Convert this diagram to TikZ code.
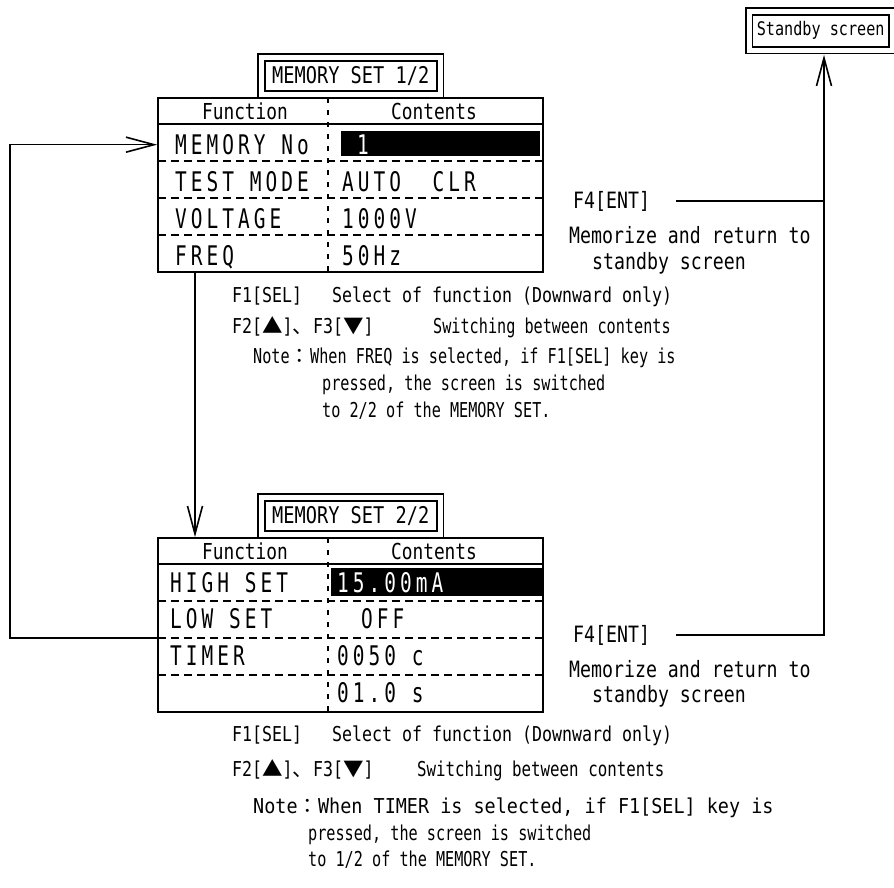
\documentclass[tikz,border=0pt]{standalone}
\usepackage{fontspec}
\usetikzlibrary{arrows.meta}
\newfontfamily\lcdfont[FakeStretch=0.72,LetterSpace=15]{DejaVu Sans Mono}
\newfontfamily\txtfont[FakeStretch=0.81]{DejaVu Sans Mono}
\newfontfamily\txtnarrow[FakeStretch=0.74]{DejaVu Sans Mono}
\newfontfamily\txtmid[FakeStretch=0.77]{DejaVu Sans Mono}
\newfontfamily\txtwide[FakeStretch=0.90]{DejaVu Sans Mono}
\newfontfamily\cjkfont{Noto Sans CJK JP}
\newcommand{\jp}[1]{{\cjkfont #1}}
\tikzset{
  ln/.style={line width=1.6pt},
  dashln/.style={line width=1.5pt,dash pattern=on 8pt off 5pt},
  vdashln/.style={line width=1.5pt,dash pattern=on 5pt off 7pt},
  tabframe/.style={draw,line width=1.8pt,minimum width=385pt,minimum height=174pt,inner sep=0pt},
  dblbox/.style={draw,double,double distance=5pt,line width=1.7pt,inner sep=0pt},
  txt/.style={font=\txtfont\fontsize{20.5}{24}\selectfont,inner sep=0pt,anchor=base west},
  ntxt/.style={txt,font=\txtnarrow\fontsize{20.5}{24}\selectfont},
  mtxt/.style={txt,font=\txtmid\fontsize{20.5}{24}\selectfont},
  wtxt/.style={txt,font=\txtwide\fontsize{20.5}{24}\selectfont},
  keytxt/.style={font=\txtfont\fontsize{22.5}{26}\selectfont,inner sep=0pt,anchor=base west},
  hdr/.style={font=\txtfont\fontsize{22}{26}\selectfont,inner sep=0pt},
  cell/.style={font=\lcdfont\fontsize{27}{30}\selectfont,inner sep=0pt,anchor=base west},
  arr/.style={-{Straight Barb[length=28pt,width=15pt]}},
}
\begin{document}
\begin{tikzpicture}[x=1pt,y=-1pt]
\useasboundingbox (0,0) rectangle (894,887);
% Screen frames
\foreach \t/\T in {1/98,2/538} {
  \node[tabframe] (tab\t) at (350.5,\T+87) {};
  \node[dblbox,minimum width=178.5pt,minimum height=37pt,font=\txtfont\fontsize{23}{27}\selectfont] (ttl\t) at (350.75,\T-22) {MEMORY SET \t/2};
  \draw[ln] (158,\T+26) -- (543,\T+26);
  \foreach \r in {63,100,137} \draw[dashln] (158,\T+\r) -- (543,\T+\r);
  \draw[vdashln] (328,\T) -- (328,\T+174);
  \node[hdr] (fn\t) at (245,\T+13.5) {Function};
  \node[hdr] (ct\t) at (434,\T+13.5) {Contents};
}
% Selected items
\fill (341,131) rectangle (540,156);
\fill (331,568) rectangle (542,596);
\foreach \n/\y/\lab/\val in {1/154.5/MEMORY No/,2/191.5/TEST MODE/AUTO~~CLR,3/228.5/VOLTAGE/1000V,4/265.5/FREQ/50Hz}
  {\node[cell] (tab1r\n) at (175,\y) {\lab};
   \node[cell] (tab1v\n) at (342,\y) {\val};}
\node[cell,text=white] (tab1sel) at (357,154.5) {1};
\foreach \n/\y/\lab/\val in {1/592/HIGH SET/,2/628.5/LOW SET/,3/665.5/TIMER/0050 c,4/702.5//01.0 s}
  {\node[cell] (tab2r\n) at (170,\y) {\lab};
   \node[cell] (tab2v\n) at (337,\y) {\val};}
\node[cell,text=white] (tab2sel) at (337,592) {15.00mA};
\node[cell] (tab2off) at (361,628.5) {OFF};
% Standby screen
\node[dblbox,minimum width=143.4pt,minimum height=38.5pt,font=\txtfont\fontsize{18.7}{22}\selectfont] (standby) at (820.7,30.75) {Standby screen};
% Key texts, first screen
\node[txt] (f1a) at (232,302) {F1[SEL]};
\node[txt] (sela) at (332,302) {Select of function (Downward only)};
\node[txt] (f2a) at (232,333) {F2[\jp{▲}]\jp{、}F3[\jp{▼}]};
\node[ntxt] (swa) at (433,333) {Switching between contents};
\node[ntxt] (notea) at (253,363) {Note\jp{：}When FREQ is selected, if F1[SEL] key is};
\node[ntxt] (pra) at (322,390) {pressed, the screen is switched};
\node[ntxt] (toa) at (322,417) {to 2/2 of the MEMORY SET.};
\node[keytxt] (ent1) at (573,208) {F4[ENT]};
\node[keytxt] (mem1) at (569,243) {Memorize and return to};
\node[keytxt] (sb1) at (592,269) {standby screen};
% Key texts, second screen
\node[txt] (f1b) at (232,741) {F1[SEL]};
\node[txt] (selb) at (332,741) {Select of function (Downward only)};
\node[txt] (f2b) at (232,776) {F2[\jp{▲}]\jp{、}F3[\jp{▼}]};
\node[mtxt] (swb) at (417,776) {Switching between contents};
\node[wtxt] (noteb) at (253,813) {Note\jp{：}When TIMER is selected, if F1[SEL] key is};
\node[ntxt] (prb) at (308,840) {pressed, the screen is switched};
\node[ntxt] (tob) at (308,866) {to 1/2 of the MEMORY SET.};
\node[keytxt] (ent2) at (573,642) {F4[ENT]};
\node[keytxt] (mem2) at (569,677) {Memorize and return to};
\node[keytxt] (sb2) at (592,702) {standby screen};
% Connectors
\coordinate (rail) at (824,0);
\coordinate (drop) at (195,0);
\coordinate (loopx) at (10,0);
\coordinate (lowend) at (158,638);
\draw[ln,arr] (tab1.south -| drop) -- (tab2.north -| drop);
\draw[ln,arr] (lowend) -- (loopx |- lowend) -- (loopx |- tab1r1) -- (tab1.west |- tab1r1);
\draw[ln] ([xshift=26pt]ent1.east) -- (ent1.east -| rail);
\draw[ln,arr,shorten >=4pt] ([xshift=26pt]ent2.east) -- (ent2.east -| rail) -- (rail |- standby.south);
\end{tikzpicture}
\end{document}
